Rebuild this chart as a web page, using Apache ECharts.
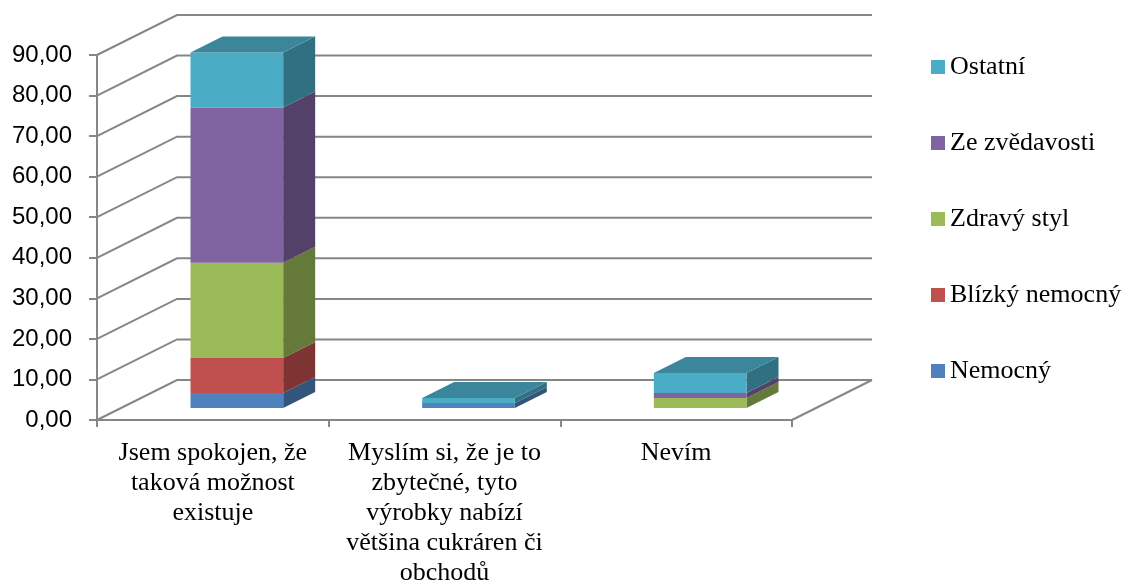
<!DOCTYPE html>
<html>
<head>
<meta charset="utf-8">
<script src="https://cdn.jsdelivr.net/npm/echarts@6/dist/echarts.min.js"></script>
<style>
  html, body { margin: 0; padding: 0; background: #ffffff; }
  #chart { width: 1125px; height: 583px; }
</style>
</head>
<body>
<div id="chart"></div>
<script>
// Category labels (wrapped as they appear under the axis)
const categories = [
  'Jsem spokojen, že\ntaková možnost\nexistuje',
  'Myslím si, že je to\nzbytečné, tyto\nvýrobky nabízí\nvětšina cukráren či\nobchodů',
  'Nevím'
];

// Stacked series values (%), bottom to top
const nemocny       = [3.70, 1.23, 0];
const blizkyNemocny = [8.64, 0, 0];
const zdravyStyl    = [23.46, 0, 2.47];
const zeZvedavosti  = [38.27, 0, 1.23];
const ostatni       = [13.58, 1.23, 4.94];

// Value axis ticks
const yTicks = [0, 10, 20, 30, 40, 50, 60, 70, 80, 90];

const seriesNames = ['Nemocný', 'Blízký nemocný', 'Zdravý styl', 'Ze zvědavosti', 'Ostatní'];
const seriesValues = [nemocny, blizkyNemocny, zdravyStyl, zeZvedavosti, ostatni];
const seriesColors = ['#4F81BD', '#C0504D', '#9BBB59', '#8064A2', '#4BACC6'];

// Oblique depth of the plot box (pixels) and where the columns sit in it
const DEPTH_X = 80, DEPTH_Y = -40;
const COL_FRONT = 0.3, COL_BACK = 0.7;
const COL_WIDTH = 0.4;          // share of the category band
const GRID_COLOR = '#868686';

function shade(hex, f) {
  const n = parseInt(hex.slice(1), 16);
  const r = Math.round(((n >> 16) & 255) * f);
  const g = Math.round(((n >> 8) & 255) * f);
  const b = Math.round((n & 255) * f);
  return 'rgb(' + r + ',' + g + ',' + b + ')';
}

// Side wall diagonals and back wall gridlines, one per tick
function renderWalls(params, api) {
  const cs = params.coordSys;
  const v = api.value(0);
  const y = api.coord([0, v])[1];
  const left = cs.x, right = cs.x + cs.width;
  const style = { stroke: GRID_COLOR, lineWidth: 2, fill: null };
  const children = [{
    type: 'polyline',
    shape: { points: [[left, y], [left + DEPTH_X, y + DEPTH_Y], [right + DEPTH_X, y + DEPTH_Y]] },
    style: style
  }];
  if (v === yTicks[0]) {
    // floor, right edge
    children.push({
      type: 'line',
      shape: { x1: right, y1: y, x2: right + DEPTH_X, y2: y + DEPTH_Y },
      style: style
    });
  }
  return { type: 'group', children: children };
}

function makeColumnRenderer(stackIdx) {
  const color = seriesColors[stackIdx];
  return function (params, api) {
    const cat = api.value(0);
    const val = api.value(1);
    if (!val) return null;
    let base = 0;
    for (let k = 0; k < stackIdx; k++) base += seriesValues[k][cat];
    let topIdx = -1;
    for (let k = 0; k < seriesValues.length; k++) if (seriesValues[k][cat] > 0) topIdx = k;

    const band = api.size([1, 0])[0];
    const cx = api.coord([cat, 0])[0];
    const w = band * COL_WIDTH;
    const fx = DEPTH_X * COL_FRONT, fy = DEPTH_Y * COL_FRONT;
    const dx = DEPTH_X * (COL_BACK - COL_FRONT), dy = DEPTH_Y * (COL_BACK - COL_FRONT);
    const x0 = cx - w / 2 + fx, x1 = x0 + w;
    const yb = api.coord([cat, base])[1] + fy;
    const yt = api.coord([cat, base + val])[1] + fy;

    const children = [
      {
        type: 'polygon',
        shape: { points: [[x1, yt], [x1 + dx, yt + dy], [x1 + dx, yb + dy], [x1, yb]] },
        style: { fill: shade(color, 0.65) }
      },
      {
        type: 'rect',
        shape: { x: x0, y: yt, width: w, height: yb - yt },
        style: { fill: color }
      }
    ];
    if (stackIdx === topIdx) {
      children.push({
        type: 'polygon',
        shape: { points: [[x0, yt], [x0 + dx, yt + dy], [x1 + dx, yt + dy], [x1, yt]] },
        style: { fill: shade(color, 0.78) }
      });
    }
    return { type: 'group', children: children };
  };
}

const series = [{
  name: 'walls',
  type: 'custom',
  silent: true,
  clip: false,
  z: 1,
  data: yTicks.map(function (t) { return [t]; }),
  encode: { y: 0 },
  renderItem: renderWalls
}];

seriesNames.forEach(function (name, i) {
  series.push({
    name: name,
    type: 'custom',
    clip: false,
    z: 2,
    itemStyle: { color: seriesColors[i] },
    data: seriesValues[i].map(function (v, c) { return [c, v]; }),
    encode: { x: 0, y: 1 },
    renderItem: makeColumnRenderer(i)
  });
});

const chart = echarts.init(document.getElementById('chart'));
chart.setOption({
  animation: false,
  backgroundColor: '#ffffff',
  grid: { left: 97, right: 333, top: 55, bottom: 163, containLabel: false, outerBoundsMode: 'none' },
  legend: {
    orient: 'vertical',
    left: 926,
    top: 49,
    itemWidth: 14,
    itemHeight: 14,
    itemGap: 50,
    icon: 'rect',
    data: ['Ostatní', 'Ze zvědavosti', 'Zdravý styl', 'Blízký nemocný', 'Nemocný'],
    textStyle: { fontFamily: 'Liberation Serif', fontSize: 26, lineHeight: 26, color: '#000000' }
  },
  xAxis: {
    type: 'category',
    data: categories,
    boundaryGap: true,
    axisLine: { lineStyle: { color: GRID_COLOR, width: 2 } },
    axisTick: { show: true, length: 7, lineStyle: { color: GRID_COLOR, width: 2 } },
    axisLabel: {
      interval: 0,
      margin: 18,
      fontFamily: 'Liberation Serif',
      fontSize: 26,
      lineHeight: 30,
      color: '#000000',
      align: 'center'
    },
    splitLine: { show: false }
  },
  yAxis: {
    type: 'value',
    min: 0,
    max: 90,
    interval: 10,
    axisLine: { show: true, lineStyle: { color: GRID_COLOR, width: 2 } },
    axisTick: { show: true, length: 8, lineStyle: { color: GRID_COLOR, width: 2 } },
    axisLabel: {
      margin: 25,
      fontFamily: 'Liberation Sans',
      fontSize: 24,
      color: '#000000',
      formatter: function (v) { return v.toFixed(2).replace('.', ','); }
    },
    splitLine: { show: false }
  },
  series: series
});
</script>
</body>
</html>
